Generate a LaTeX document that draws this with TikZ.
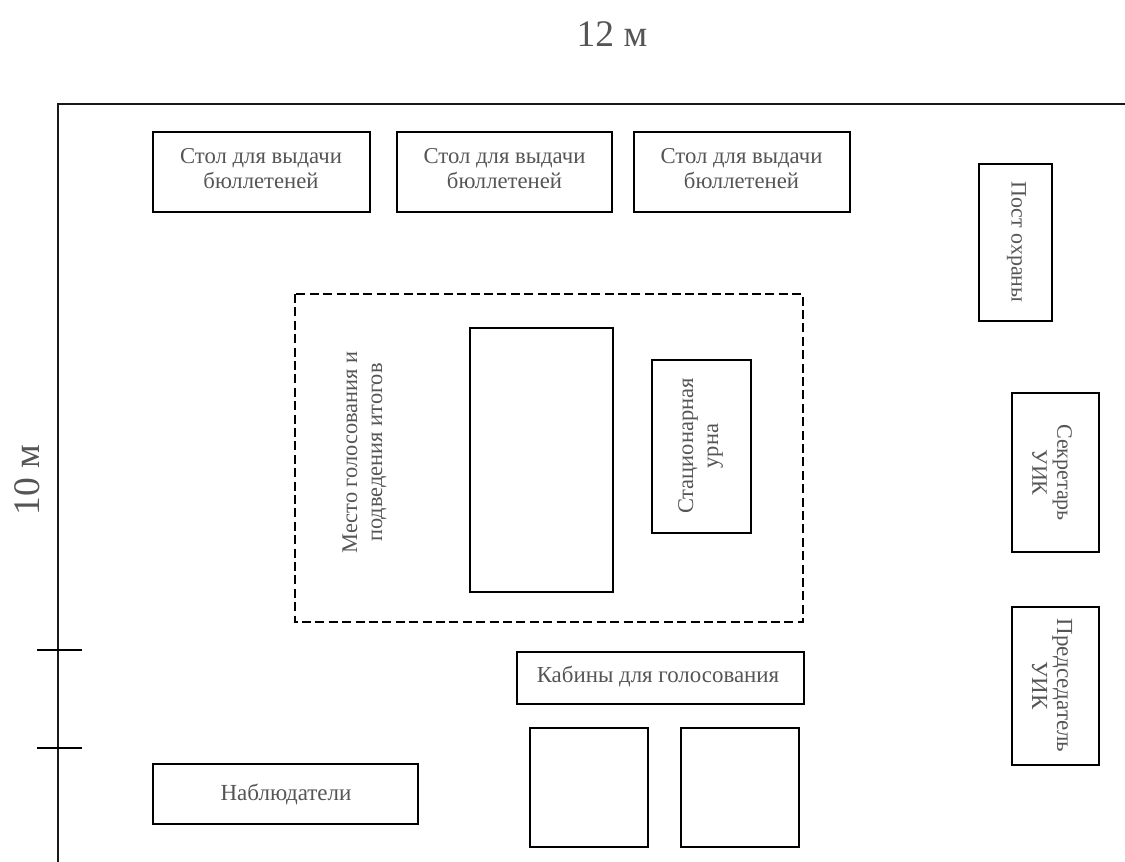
\documentclass[tikz,border=0pt]{standalone}
\usepackage{fontspec}
\setmainfont{Liberation Serif}
\definecolor{txt}{HTML}{555555}
\tikzset{
 box/.style={draw=black,line width=1.7pt,fill=white},
 lbl/.style={text=txt,font=\fontsize{#1}{25}\selectfont,align=center,inner sep=0pt},
 lbl/.default=21,
 big/.style={text=txt,font=\fontsize{37.5}{40}\selectfont,inner sep=0pt},
}
\begin{document}
\begin{tikzpicture}[x=1pt,y=1pt]
\useasboundingbox (0,-862) rectangle (1125,0);
\coordinate (wt) at (1125,-104);
\coordinate (wc) at (58,-104);
\coordinate (wb) at (58,-862);
\draw[line width=1.5pt,draw=black!90] (wt)--(wc)--(wb);
\coordinate (t1a) at (37,-650); \coordinate (t1b) at (82,-650);
\coordinate (t2a) at (37,-748); \coordinate (t2b) at (82,-748);
\draw[line width=1.2pt] (t1a)--(t1b); \draw[line width=1.2pt] (t2a)--(t2b);
\draw[box] (153,-132) rectangle (370,-212);
\node[lbl=22.7] (s1) at (261,-169) {Стол для выдачи\\бюллетеней};
\draw[box] (397,-132) rectangle (612,-212);
\node[lbl=22.7] (s2) at (504.5,-169) {Стол для выдачи\\бюллетеней};
\draw[box] (634,-132) rectangle (850,-212);
\node[lbl=22.7] (s3) at (741.5,-169) {Стол для выдачи\\бюллетеней};
\draw[box] (979,-164) rectangle (1052,-321);
\node[lbl=22,rotate=-90] (p) at (1016.5,-242) {Пост охраны};
\draw[line width=2pt,dash pattern=on 9pt off 4.4pt] (295,-294) rectangle (803,-622);
\node[lbl=22.4,rotate=90] (m) at (364.5,-452.5) {Место голосования и\\подведения итогов};
\draw[box] (470,-328) rectangle (613,-592);
\draw[box] (652,-360) rectangle (751,-533);
\node[lbl=22.5,rotate=90] (u) at (700.5,-446) {Стационарная\\урна};
\draw[box] (1012,-393) rectangle (1099,-552);
\node[lbl=22,rotate=-90] (sek) at (1052,-472.5) {Секретарь\\УИК};
\draw[box] (1012,-607) rectangle (1099,-765);
\node[lbl=23,rotate=-90] (pr) at (1052,-685.5) {Председатель\\УИК};
\draw[box] (517,-652) rectangle (804,-704);
\node[lbl=22.9] (k) at (658,-677) {Кабины для голосования};
\draw[box] (530,-728) rectangle (648,-847);
\draw[box] (681,-728) rectangle (799,-847);
\draw[box] (153,-764) rectangle (418,-824);
\node[lbl=23] (n) at (286,-794) {Наблюдатели};
\node[big] (w) at (612,-34) {12 м};
\node[big,rotate=90] (h) at (27,-480) {10 м};
\end{tikzpicture}
\end{document}
